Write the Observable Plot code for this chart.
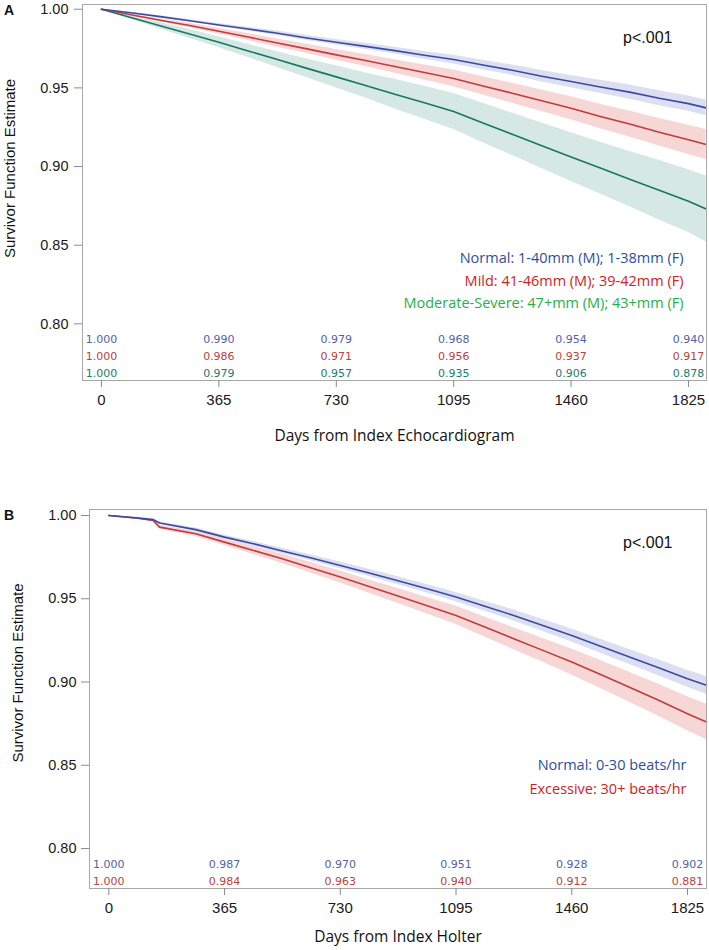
<!DOCTYPE html>
<html><head><meta charset="utf-8">
<script src="https://cdn.jsdelivr.net/npm/d3@7"></script>
<script src="https://cdn.jsdelivr.net/npm/@observablehq/plot@0.6"></script>
<style>
body{margin:0;background:#fff;}
#wrap{position:relative;width:709px;height:950px;overflow:hidden;background:#fff;}
.panel{position:absolute;left:0;}
.tag{position:absolute;font:bold 14px "Liberation Sans",Arial,sans-serif;color:#111;}
</style></head><body>
<div id="wrap">
  <div id="pa" class="panel" style="top:2px"></div>
  <div id="pb" class="panel" style="top:470px"></div>
  <div class="tag" style="left:4px;top:2px">A</div>
  <div class="tag" style="left:4px;top:507px">B</div>
</div>
<script>
// ---------- shared ticks ----------
const tickDays = [0, 365, 730, 1095, 1460, 1825];
const yTicks = [0.80, 0.85, 0.90, 0.95, 1.00];

// ---------- Panel A: LA size (echocardiogram) ----------
const daysA = [0, 91, 182, 274, 365, 456, 547, 639, 730, 821, 912, 1004, 1095, 1186, 1277, 1369, 1460, 1551, 1642, 1734, 1825, 1880];
const normalA   = [1.000, 0.9978, 0.9953, 0.9927, 0.9900, 0.9874, 0.9847, 0.9817, 0.9790, 0.9764, 0.9737, 0.9707, 0.9680, 0.9646, 0.9612, 0.9574, 0.9540, 0.9506, 0.9473, 0.9434, 0.9400, 0.9373];
const normalA_ci = [0, 0.0003, 0.0006, 0.0008, 0.0010, 0.0012, 0.0014, 0.0016, 0.0018, 0.0020, 0.0022, 0.0025, 0.0028, 0.0030, 0.0033, 0.0036, 0.0039, 0.0042, 0.0045, 0.0047, 0.0049, 0.0050];
const mildA     = [1.000, 0.9965, 0.9930, 0.9897, 0.9860, 0.9823, 0.9785, 0.9748, 0.9710, 0.9674, 0.9636, 0.9598, 0.9560, 0.9512, 0.9466, 0.9418, 0.9370, 0.9318, 0.9270, 0.9218, 0.9170, 0.9140];
const mildA_ci  = [0, 0.0005, 0.0010, 0.0014, 0.0018, 0.0022, 0.0026, 0.0030, 0.0034, 0.0038, 0.0043, 0.0048, 0.0053, 0.0058, 0.0063, 0.0068, 0.0073, 0.0078, 0.0083, 0.0088, 0.0093, 0.0096];
const modsevA   = [1.000, 0.9948, 0.9895, 0.9843, 0.9790, 0.9735, 0.9680, 0.9624, 0.9570, 0.9515, 0.9460, 0.9406, 0.9350, 0.9277, 0.9205, 0.9132, 0.9060, 0.8990, 0.8920, 0.8850, 0.8780, 0.8730];
const modsevA_ci = [0, 0.0010, 0.0020, 0.0028, 0.0035, 0.0042, 0.0050, 0.0060, 0.0070, 0.0080, 0.0095, 0.0105, 0.0115, 0.0125, 0.0135, 0.0145, 0.0155, 0.0165, 0.0175, 0.0190, 0.0200, 0.0210];
const riskNormalA = [1.000, 0.990, 0.979, 0.968, 0.954, 0.940];
const riskMildA   = [1.000, 0.986, 0.971, 0.956, 0.937, 0.917];
const riskModsevA = [1.000, 0.979, 0.957, 0.935, 0.906, 0.878];
const legendA = ["Normal: 1-40mm (M); 1-38mm (F)", "Mild: 41-46mm (M); 39-42mm (F)", "Moderate-Severe: 47+mm (M); 43+mm (F)"];
const xLabelA = "Days from Index Echocardiogram";

// ---------- Panel B: PVC burden (Holter) ----------
const daysB = [0, 91, 140, 160, 274, 365, 456, 547, 639, 730, 821, 912, 1004, 1095, 1186, 1277, 1369, 1460, 1551, 1642, 1734, 1825, 1885];
const normalB    = [1.000, 0.9985, 0.9975, 0.9955, 0.9915, 0.9870, 0.9830, 0.9787, 0.9745, 0.9700, 0.9655, 0.9608, 0.9560, 0.9510, 0.9455, 0.9400, 0.9340, 0.9280, 0.9215, 0.9150, 0.9085, 0.9020, 0.8980];
const normalB_ci = [0, 0.0004, 0.0006, 0.0008, 0.0010, 0.0012, 0.0014, 0.0016, 0.0018, 0.0020, 0.0022, 0.0024, 0.0026, 0.0028, 0.0030, 0.0033, 0.0036, 0.0039, 0.0042, 0.0045, 0.0048, 0.0051, 0.0053];
const excessB    = [1.000, 0.9983, 0.9970, 0.9930, 0.9890, 0.9840, 0.9790, 0.9740, 0.9685, 0.9630, 0.9573, 0.9516, 0.9458, 0.9400, 0.9330, 0.9260, 0.9190, 0.9120, 0.9045, 0.8968, 0.8890, 0.8810, 0.8760];
const excessB_ci = [0, 0.0006, 0.0009, 0.0012, 0.0016, 0.0020, 0.0024, 0.0028, 0.0032, 0.0036, 0.0040, 0.0045, 0.0050, 0.0055, 0.0060, 0.0066, 0.0072, 0.0078, 0.0084, 0.0090, 0.0096, 0.0102, 0.0106];
const riskNormalB = [1.000, 0.987, 0.970, 0.951, 0.928, 0.902];
const riskExcessB = [1.000, 0.984, 0.963, 0.940, 0.912, 0.881];
const legendB = ["Normal: 0-30 beats/hr", "Excessive: 30+ beats/hr"];
const xLabelB = "Days from Index Holter";

const yTitle = "Survivor Function Estimate";
const pText = "p<.001";

function build(cfg) {
  const marks = [];
  cfg.series.forEach(s => {
    const pts = cfg.days.map((d, i) => ({day: d, lo: s.est[i] - s.ci[i], hi: s.est[i] + s.ci[i]}));
    marks.push(Plot.areaY(pts, {x: "day", y1: "lo", y2: "hi", fill: s.band}));
  });
  cfg.series.forEach(s => {
    const pts = cfg.days.map((d, i) => ({day: d, est: s.est[i]}));
    marks.push(Plot.line(pts, {x: "day", y: "est", stroke: s.line, strokeWidth: 1.6}));
  });
  marks.push(Plot.frame({stroke: "#a8a8a8"}));
  marks.push(Plot.axisX({ticks: tickDays, tickSize: 7, tickPadding: 7, stroke: "#8a8a8a", fill: "#1a1a1a", label: null, fontSize: 15, tickFormat: d => String(d)}));
  marks.push(Plot.axisY({ticks: yTicks, tickSize: 8, tickPadding: cfg.yPad, stroke: "#8a8a8a", fill: "#1a1a1a", label: null, fontSize: 14.5, tickFormat: d => d.toFixed(2)}));
  cfg.risk.forEach(r => {
    marks.push(Plot.text(tickDays, {x: d => d, text: (d, i) => r.vals[i].toFixed(3), frameAnchor: "bottom", dy: r.dy, lineAnchor: "middle", fill: r.color, fontSize: 11, fontFamily: "DejaVu Sans"}));
  });
  cfg.legend.forEach(l => {
    marks.push(Plot.text([l.text], {text: d => d, frameAnchor: "top-right", dx: cfg.legendDx, dy: l.dy, lineAnchor: "middle", fill: l.color, fontSize: 14.5, fontFamily: "Open Sans"}));
  });
  marks.push(Plot.text([pText], {text: d => d, frameAnchor: "top-right", dx: -34, dy: 33, lineAnchor: "middle", fill: "#111", fontSize: 16, fontFamily: "Liberation Sans"}));
  marks.push(Plot.text([cfg.xLabel], {text: d => d, frameAnchor: "bottom", dy: cfg.xLabelDy, lineAnchor: "middle", fill: "#111", fontSize: 15.5, fontFamily: "Open Sans"}));
  marks.push(Plot.text([yTitle], {text: d => d, frameAnchor: "left", dx: cfg.yTitleDx, dy: cfg.yTitleDy, rotate: -90, textAnchor: "middle", lineAnchor: "middle", fill: "#111", fontSize: 15, fontFamily: "Liberation Sans"}));
  return Plot.plot({
    width: 709,
    height: cfg.height,
    marginLeft: cfg.ml, marginRight: 3, marginTop: cfg.mt, marginBottom: cfg.mb,
    x: {domain: cfg.xDomain},
    y: {domain: cfg.yDomain},
    style: {fontFamily: "Liberation Sans, Arial, sans-serif", background: "transparent", overflow: "visible"},
    marks
  });
}

const blueLine = "#3b4ba0", redLine = "#c23b3d", greenLine = "#17785f";
const blueBand = "#dcdff2", redBand = "#f7d6d6", greenBand = "#d5e8e3";

document.getElementById("pa").appendChild(build({
  height: 466, ml: 82, mt: 2, mb: 88, xDomain: [-59, 1881], yDomain: [0.764, 1.003], yPad: 6,
  days: daysA, xLabel: xLabelA, xLabelDy: 56, yTitleDx: -72, yTitleDy: -24, legendDx: -23,
  series: [
    {est: modsevA, ci: modsevA_ci, line: greenLine, band: greenBand},
    {est: mildA, ci: mildA_ci, line: redLine, band: redBand},
    {est: normalA, ci: normalA_ci, line: blueLine, band: blueBand}
  ],
  risk: [
    {vals: riskNormalA, color: "#5262a7", dy: -41},
    {vals: riskMildA, color: "#b8433f", dy: -24},
    {vals: riskModsevA, color: "#1d7c6b", dy: -7}
  ],
  legend: [
    {text: legendA[0], color: "#2c4f9e", dy: 254},
    {text: legendA[1], color: "#d12222", dy: 277},
    {text: legendA[2], color: "#22b14c", dy: 299}
  ]
}));

document.getElementById("pb").appendChild(build({
  height: 480, ml: 89, mt: 39, mb: 62, xDomain: [-61, 1885], yDomain: [0.776, 1.0036], yPad: 5,
  days: daysB, xLabel: xLabelB, xLabelDy: 49, yTitleDx: -71, yTitleDy: -26, legendDx: -20,
  series: [
    {est: excessB, ci: excessB_ci, line: redLine, band: redBand},
    {est: normalB, ci: normalB_ci, line: blueLine, band: blueBand}
  ],
  risk: [
    {vals: riskNormalB, color: "#5262a7", dy: -24},
    {vals: riskExcessB, color: "#b8433f", dy: -7}
  ],
  legend: [
    {text: legendB[0], color: "#2c4f9e", dy: 256},
    {text: legendB[1], color: "#d12222", dy: 280}
  ]
}));
</script>
</body></html>
